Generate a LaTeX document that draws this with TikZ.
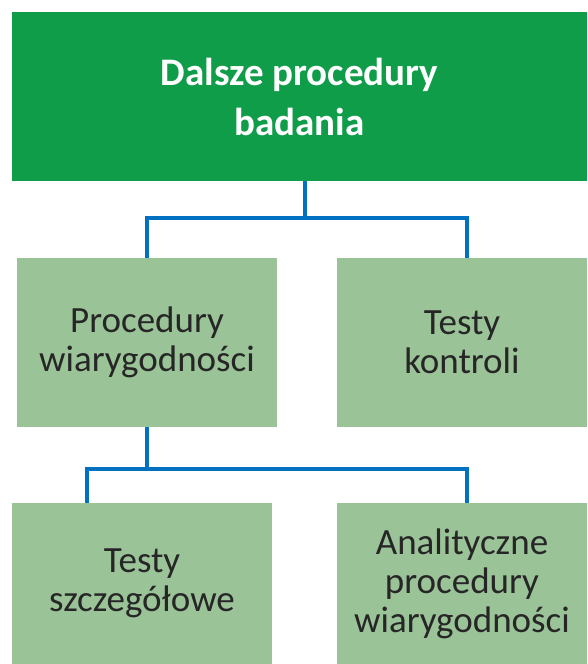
\documentclass[tikz,border=0pt]{standalone}
\usepackage{fontspec}
\setmainfont{Carlito}
\usepackage{tikz}
\usetikzlibrary{positioning,calc}

\definecolor{topgreen}{HTML}{0F9D4A}
\definecolor{boxgreen}{HTML}{9BC398}
\definecolor{linkblue}{HTML}{0070C0}
\definecolor{textgray}{HTML}{262626}

\begin{document}
\begin{tikzpicture}[x=1pt,y=-1pt,
	topbox/.style={fill=topgreen,minimum width=575pt,minimum height=169pt,align=center,text=white,font=\fontsize{39}{50}\selectfont\bfseries},
	subbox/.style={fill=boxgreen,minimum height=169pt,align=center,text=textgray,font=\fontsize{37}{39}\selectfont},
	link/.style={draw=linkblue,line width=4.5pt}]
	\useasboundingbox (0,0) rectangle (587,664);
	
	\node[topbox] (top) at (299.5,96.5) {Dalsze procedury\\badania};
	
	\node[subbox,minimum width=260pt] (wiar) at (147,342.5) {Procedury\\wiarygodności};
	\node[subbox,minimum width=250pt] (kontr) at (462,342.5) {Testy\\kontroli};
	
	\node[subbox,minimum width=260pt,minimum height=161pt] (szcz) at (142,583.5) {Testy\\szczegółowe};
	\node[subbox,minimum width=250pt,minimum height=161pt] (anal) at (462,583.5) {Analityczne\\procedury\\wiarygodności};
	
	% junctions
	\coordinate (j1) at (305,218);
	\coordinate (j2) at (147,469);
	
	\draw[link] (top.south -| j1) -- (j1) -| (wiar.north);
	\draw[link] (j1) -| ([xshift=5pt]kontr.north);
	
	\draw[link] (wiar.south) -- (j2) -| ([xshift=-55pt]szcz.north);
	\draw[link] (j2) -| ([xshift=5pt]anal.north);
\end{tikzpicture}
\end{document}
